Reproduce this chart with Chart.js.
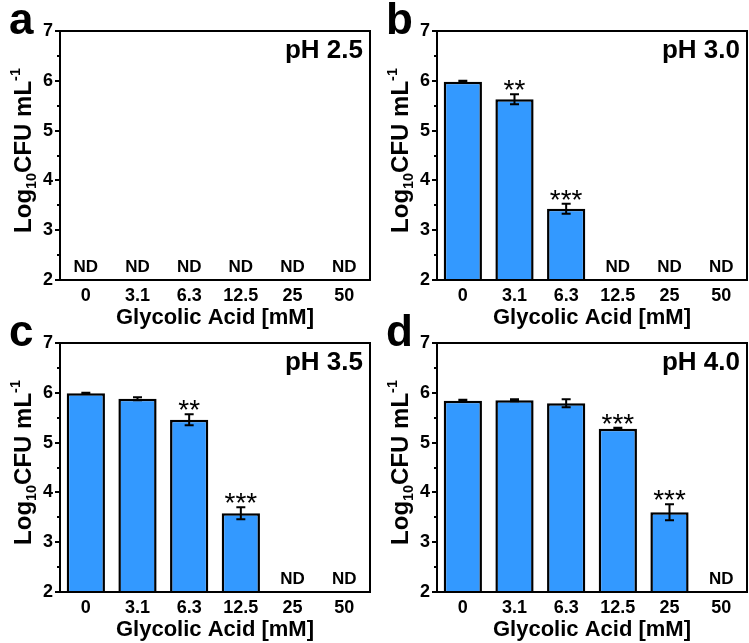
<!DOCTYPE html>
<html>
<head>
<meta charset="utf-8">
<script src="https://cdn.jsdelivr.net/npm/chart.js@4.4.1/dist/chart.umd.min.js"></script>
<style>
  html, body { margin: 0; padding: 0; background: #fff; width: 749px; height: 643px; overflow: hidden; }
  .panel { position: absolute; width: 375px; height: 331px; }
</style>
</head>
<body>
<div class="panel" style="left:0;top:0"><canvas id="pa" width="375" height="331"></canvas></div>
<div class="panel" style="left:377px;top:0"><canvas id="pb" width="375" height="331"></canvas></div>
<div class="panel" style="left:0;top:312px"><canvas id="pc" width="375" height="331"></canvas></div>
<div class="panel" style="left:377px;top:312px"><canvas id="pd" width="375" height="331"></canvas></div>
<script>
// glycolic acid concentrations (mM)
const categories = ['0', '3.1', '6.3', '12.5', '25', '50'];
const yTicks = [2, 3, 4, 5, 6, 7];

// Log10 CFU/mL, null = not detected
const ph25 = [null, null, null, null, null, null];
const ph25Err = [0, 0, 0, 0, 0, 0];
const ph25Sig = ['', '', '', '', '', ''];

const ph30 = [5.98, 5.63, 3.43, null, null, null];
const ph30Err = [0.02, 0.10, 0.10, 0, 0, 0];
const ph30Sig = ['', '**', '***', '', '', ''];

const ph35 = [5.99, 5.88, 5.46, 3.58, null, null];
const ph35Err = [0.01, 0.03, 0.11, 0.12, 0, 0];
const ph35Sig = ['', '', '**', '***', '', ''];

const ph40 = [5.84, 5.85, 5.79, 5.28, 3.60, null];
const ph40Err = [0.02, 0.02, 0.08, 0.02, 0.16, 0];
const ph40Sig = ['', '', '', '***', '***', ''];

const FONT = '"Liberation Sans", Arial, Helvetica, sans-serif';
const BAR_BLUE = '#3399ff';

// frame, error bars, ND / significance marks, titles
const panelDecor = {
  id: 'panelDecor',
  afterDraw(chart, args, opts) {
    const ctx = chart.ctx;
    const area = chart.chartArea;
    const x = chart.scales.x;
    const y = chart.scales.y;
    ctx.save();

    // error bars
    ctx.strokeStyle = '#000';
    ctx.lineWidth = 2;
    opts.values.forEach((v, i) => {
      if (v === null || !opts.errs[i]) return;
      const cx = x.getPixelForValue(i);
      const top = y.getPixelForValue(v + opts.errs[i]);
      const bot = y.getPixelForValue(v - opts.errs[i]);
      ctx.beginPath();
      ctx.moveTo(cx, top); ctx.lineTo(cx, bot);
      ctx.moveTo(cx - 4.5, top); ctx.lineTo(cx + 4.5, top);
      ctx.moveTo(cx - 4.5, bot); ctx.lineTo(cx + 4.5, bot);
      ctx.stroke();
    });

    // minor ticks
    ctx.beginPath();
    for (let t = 2.5; t < 7; t += 1) {
      const py = Math.round(y.getPixelForValue(t));
      ctx.moveTo(area.left, py); ctx.lineTo(area.left - 3, py);
    }
    ctx.stroke();

    // frame
    ctx.strokeRect(area.left, area.top, area.right - area.left, area.bottom - area.top);

    ctx.fillStyle = '#000';
    ctx.textAlign = 'center';
    ctx.textBaseline = 'alphabetic';
    opts.values.forEach((v, i) => {
      const cx = x.getPixelForValue(i);
      if (v === null) {
        ctx.font = 'bold 17px ' + FONT;
        ctx.fillText('ND', cx, area.bottom - 8);
      } else if (opts.sig[i]) {
        ctx.font = '28px ' + FONT;
        ctx.fillText(opts.sig[i], cx, y.getPixelForValue(v + opts.errs[i]) + 5);
      }
    });

    // pH label
    ctx.font = 'bold 26px ' + FONT;
    ctx.textAlign = 'right';
    ctx.fillText(opts.ph, area.right - 7, 58);

    // panel letter
    ctx.font = 'bold 44px ' + FONT;
    ctx.textAlign = 'left';
    ctx.fillText(opts.letter, 9, 34);

    // x title
    ctx.font = 'bold 22px ' + FONT;
    ctx.textAlign = 'center';
    ctx.fillText('Glycolic Acid [mM]', (area.left + area.right) / 2, 324);

    // y title with sub/superscript
    const size = 24;
    const parts = [
      { t: 'Log', s: 1, dy: 0 },
      { t: '10', s: 0.6, dy: 0.22 },
      { t: 'CFU mL', s: 1, dy: 0 },
      { t: '-1', s: 0.6, dy: -0.45 }
    ];
    let total = 0;
    parts.forEach(p => {
      ctx.font = 'bold ' + (size * p.s) + 'px ' + FONT;
      p.w = ctx.measureText(p.t).width;
      total += p.w;
    });
    ctx.translate(31, (area.top + area.bottom) / 2 - 5);
    ctx.rotate(-Math.PI / 2);
    ctx.textAlign = 'left';
    let pos = -total / 2;
    parts.forEach(p => {
      ctx.font = 'bold ' + (size * p.s) + 'px ' + FONT;
      ctx.fillText(p.t, pos, p.dy * size);
      pos += p.w;
    });
    ctx.restore();
  }
};

function makePanel(id, letter, ph, values, errs, sig) {
  new Chart(document.getElementById(id), {
    type: 'bar',
    data: {
      labels: categories,
      datasets: [{
        data: values,
        backgroundColor: BAR_BLUE,
        borderColor: '#000',
        borderWidth: 2.5,
        borderSkipped: 'start',
        categoryPercentage: 1,
        barPercentage: 0.74
      }]
    },
    options: {
      responsive: false,
      animation: false,
      layout: { padding: { left: 0, top: 31, right: 5, bottom: 0 } },
      plugins: {
        legend: { display: false },
        tooltip: { enabled: false },
        panelDecor: { letter, ph, values, errs, sig }
      },
      scales: {
        x: {
          grid: { display: false, drawTicks: false },
          border: { display: false },
          ticks: { color: '#000', padding: 5, font: { family: FONT, size: 18, weight: 'bold' } },
          afterFit: s => { s.height = 51; }
        },
        y: {
          min: yTicks[0],
          max: yTicks[yTicks.length - 1],
          grid: { drawOnChartArea: false, drawTicks: true, tickLength: 5, color: '#000', lineWidth: 2 },
          border: { display: false },
          ticks: {
            stepSize: 1,
            padding: 2,
            color: '#000',
            font: { family: FONT, size: 18, weight: 'bold' },
            callback: v => (yTicks.includes(v) ? v : '')
          },
          afterFit: s => { s.width = 60; }
        }
      }
    },
    plugins: [panelDecor]
  });
}

makePanel('pa', 'a', 'pH 2.5', ph25, ph25Err, ph25Sig);
makePanel('pb', 'b', 'pH 3.0', ph30, ph30Err, ph30Sig);
makePanel('pc', 'c', 'pH 3.5', ph35, ph35Err, ph35Sig);
makePanel('pd', 'd', 'pH 4.0', ph40, ph40Err, ph40Sig);
</script>
</body>
</html>
